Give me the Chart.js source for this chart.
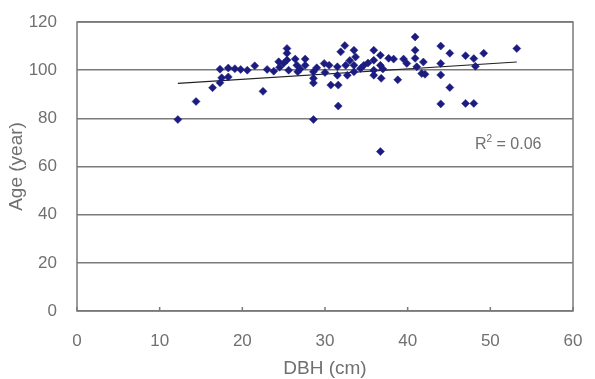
<!DOCTYPE html>
<html>
<head>
<meta charset="utf-8">
<script src="https://cdn.jsdelivr.net/npm/chart.js@4.4.0/dist/chart.umd.min.js"></script>
<style>
  html, body { margin: 0; padding: 0; background: #fff; }
  #wrap { width: 595px; height: 379px; }
</style>
</head>
<body>
<div id="wrap"><canvas id="myChart" width="595" height="379"></canvas></div>
<script>
// values
const dbh = [12.2, 14.4, 16.4, 17.3, 17.5, 18.3, 17.3, 18.3, 19.1, 19.8, 20.6, 21.5, 22.5, 23.0, 23.8,
  24.5, 24.4, 25.0, 25.4, 25.4, 25.4, 25.6, 26.4, 26.6, 26.7, 27.6, 27.6, 28.6, 28.6, 28.6,
  28.6, 29.9, 30.5, 30.7, 31.6, 31.6, 31.5, 31.5, 31.9, 32.4, 32.7, 32.5, 33.5, 33.7, 33.5,
  33.5, 34.3, 34.7, 35.9, 35.9, 35.9, 35.9, 36.7, 36.7, 36.8, 36.7, 37.7, 38.3, 38.8, 39.5,
  39.9, 40.9, 40.9, 40.9, 41.1, 41.7, 41.9, 44.0, 44.0, 45.1, 47.0, 48.0, 48.2, 49.2, 53.2,
  42.1, 44.0, 45.1, 47.0, 48.0, 44.0, 29.0, 35.2, 37.0, 33.0, 27.0, 30.0];
const age = [79.5, 87, 92.7, 94.8, 96.8, 97.2, 100.4, 100.9, 100.6, 100.3, 100, 101.8, 91.2, 100.3, 99.6,
  101.2, 103.5, 102.9, 109, 107, 104.2, 100, 104.6, 102, 99.3, 104.6, 102, 99.3, 96.6, 94.7,
  79.5, 102.8, 102, 93.8, 93.8, 85.1, 101.4, 97.9, 107.6, 110.2, 97.9, 102, 108.3, 105.5, 102,
  99.3, 100.7, 102, 108.3, 104.1, 100, 97.9, 106.2, 102, 96.6, 66.2, 104.9, 104.6, 96, 104.6,
  102.8, 113.8, 108.3, 104.9, 101.4, 98.6, 103.4, 86, 110, 107, 106, 104.8, 101.6, 107, 109,
  98.3, 98, 92.8, 86.2, 86.2, 102.8, 101, 103, 100.5, 104, 100.5, 99];
const trendX = [12.2, 53.2];
const trendY = [94.5, 103.4];
const xTicks = [0, 10, 20, 30, 40, 50, 60];
const yTicks = [0, 20, 40, 60, 80, 100, 120];

const textColor = '#707070';
const lineColor = '#7a7a7a';
const fontFamily = '"Liberation Sans", Arial, sans-serif';

const boxPlugin = {
  id: 'box',
  afterDatasetsDraw(chart) {
    const { ctx, chartArea: a, scales: { x } } = chart;
    ctx.save();
    ctx.strokeStyle = lineColor;
    ctx.lineWidth = 1.5;
    ctx.strokeRect(a.left, a.top, a.right - a.left, a.bottom - a.top);
    // inside tick marks on the x axis
    ctx.beginPath();
    for (const v of xTicks) {
      const px = x.getPixelForValue(v);
      ctx.moveTo(px, a.bottom);
      ctx.lineTo(px, a.bottom - 4);
    }
    ctx.stroke();
    // R squared label
    ctx.fillStyle = textColor;
    ctx.textBaseline = 'alphabetic';
    let tx = 475, ty = 149;
    ctx.font = '16px ' + fontFamily;
    ctx.fillText('R', tx, ty);
    tx += ctx.measureText('R').width;
    ctx.font = '10px ' + fontFamily;
    ctx.fillText('2', tx, ty - 7);
    tx += ctx.measureText('2').width;
    ctx.font = '16px ' + fontFamily;
    ctx.fillText(' = 0.06', tx, ty);
    ctx.restore();
  }
};

const ctx = document.getElementById('myChart').getContext('2d');
const myChart = new Chart(ctx, {
  type: 'scatter',
  data: {
    datasets: [{
      label: 'Age',
      data: dbh.map((v, i) => ({ x: v, y: age[i] })),
      pointStyle: 'rectRot',
      pointRadius: 4,
      backgroundColor: '#1c1c80',
      borderColor: '#1c1c80',
      borderWidth: 0.5,
      order: 1
    }, {
      label: 'Trend',
      type: 'line',
      data: trendX.map((v, i) => ({ x: v, y: trendY[i] })),
      borderColor: '#222',
      borderWidth: 1.2,
      pointRadius: 0,
      fill: false,
      order: 2
    }]
  },
  options: {
    responsive: false,
    animation: false,
    layout: { padding: { top: 22, right: 22, left: 0, bottom: 0 } },
    plugins: { legend: { display: false }, tooltip: { enabled: false } },
    scales: {
      x: {
        type: 'linear',
        min: 0, max: 60,
        afterBuildTicks: s => { s.ticks = xTicks.map(v => ({ value: v })); },
        afterFit: s => { s.height = 68; s.paddingLeft = 0; s.paddingRight = 0; },
        grid: { display: false, drawTicks: false },
        border: { display: false },
        ticks: { color: textColor, padding: 20, maxRotation: 0,
          font: { family: fontFamily, size: 17 } },
        title: { display: true, text: 'DBH (cm)', color: textColor, padding: 0,
          font: { family: fontFamily, size: 19, lineHeight: 1.05 } }
      },
      y: {
        min: 0, max: 120,
        afterBuildTicks: s => { s.ticks = yTicks.map(v => ({ value: v })); },
        afterFit: s => { s.width = 77; s.paddingTop = 0; s.paddingBottom = 0; },
        grid: { color: lineColor, lineWidth: 1.5, drawTicks: false },
        border: { display: false },
        ticks: { color: textColor, padding: 20,
          font: { family: fontFamily, size: 17 } },
        title: { display: true, text: 'Age (year)', color: textColor, padding: { top: 5 },
          font: { family: fontFamily, size: 19, lineHeight: 1.2 } }
      }
    }
  },
  plugins: [boxPlugin]
});
</script>
</body>
</html>
